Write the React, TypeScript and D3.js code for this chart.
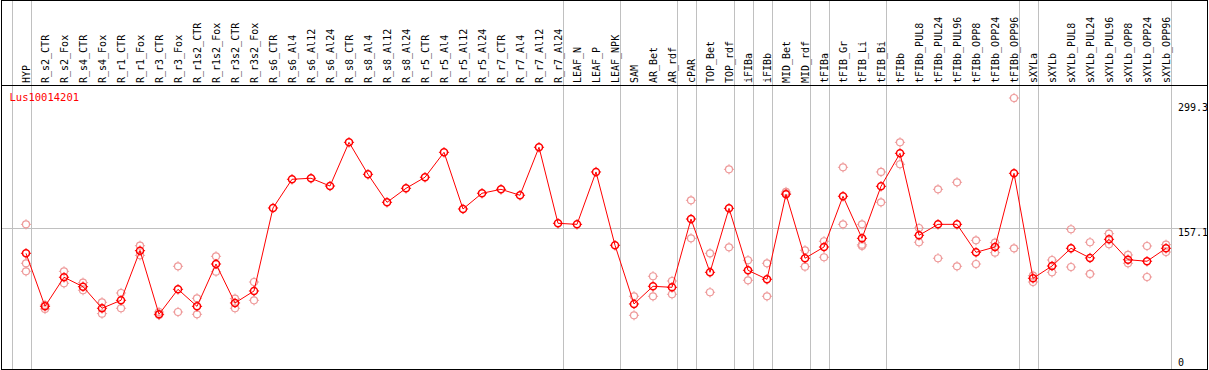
import React from "react";
import * as d3 from "d3";

const geneName = "Lus10014201";

const groups: string[][] = [
  ["HYP"],
  ["R_s2_CTR", "R_s2_Fox", "R_s4_CTR", "R_s4_Fox", "R_r1_CTR", "R_r1_Fox", "R_r3_CTR", "R_r3_Fox",
   "R_r1s2_CTR", "R_r1s2_Fox", "R_r3s2_CTR", "R_r3s2_Fox", "R_s6_CTR", "R_s6_Al4", "R_s6_Al12", "R_s6_Al24",
   "R_s8_CTR", "R_s8_Al4", "R_s8_Al12", "R_s8_Al24", "R_r5_CTR", "R_r5_Al4", "R_r5_Al12", "R_r5_Al24",
   "R_r7_CTR", "R_r7_Al4", "R_r7_Al12", "R_r7_Al24"],
  ["LEAF_N", "LEAF_P", "LEAF_NPK"],
  ["SAM", "AR_Bet", "AR_rdf"],
  ["cPAR"],
  ["TOP_Bet", "TOP_rdf"],
  ["iFIBa"],
  ["iFIBb"],
  ["MID_Bet", "MID_rdf"],
  ["tFIBa"],
  ["tFIB_Gr", "tFIB_Li", "tFIB_Bi"],
  ["tFIBb", "tFIBb_PUL8", "tFIBb_PUL24", "tFIBb_PUL96", "tFIBb_OPP8", "tFIBb_OPP24", "tFIBb_OPP96"],
  ["sXYLa"],
  ["sXYLb", "sXYLb_PUL8", "sXYLb_PUL24", "sXYLb_PUL96", "sXYLb_OPP8", "sXYLb_OPP24", "sXYLb_OPP96"],
];

const categories: string[] = groups.flat();

const means: number[] = [
  129.4, 71.4, 103.2, 92.9, 69.3, 78.0, 132.3, 62.7, 90.0, 71.4,
  117.7, 75.1, 88.2, 179.0, 210.4, 211.5, 203.0, 250.8, 215.8, 185.2,
  200.5, 212.6, 239.9, 177.9, 195.1, 199.4, 192.9, 245.4, 162.2, 161.1,
  218.4, 138.2, 74.0, 93.3, 92.2, 166.9, 108.6, 178.6, 110.8, 101.0,
  194.0, 124.0, 136.3, 191.8, 145.8, 202.7, 238.8, 149.1, 161.1, 161.1,
  130.5, 136.3, 216.9, 102.1, 115.5, 134.9, 124.3, 144.7, 122.4, 120.7,
  134.9,
];

const replicates: number[][] = [
  [161.1, 118.5, 109.7], [72.9, 68.5], [109.7, 96.6], [97.3, 89.0], [75.8, 63.4],
  [86.0, 69.3], [137.7, 127.2], [65.2, 61.9], [115.2, 65.2], [80.2, 62.7],
  [126.1, 109.3], [79.8, 69.3], [98.0, 78.0], [], [],
  [], [], [], [], [],
  [], [], [], [], [],
  [], [], [], [], [],
  [], [], [82.4, 61.6], [104.3, 82.4], [99.1, 84.6],
  [187.4, 145.8], [129.4, 86.8], [221.3, 136.0], [121.8, 99.9], [118.5, 82.4],
  [196.5, 195.0], [132.7, 114.8], [142.6, 125.1], [223.5, 161.1], [161.1, 138.8, 137.4],
  [218.4, 185.2], [250.8, 226.8], [157.1, 141.5], [199.4, 124.0], [207.1, 115.2],
  [143.6, 117.7], [141.0, 130.1], [299.3, 134.9], [104.9, 98.0], [122.1, 108.6],
  [155.7, 114.4], [141.5, 106.8], [150.9, 139.3], [127.6, 118.5], [137.4, 103.5],
  [138.8, 130.8],
];

const yTicks: number[] = [0, 157.1, 299.3];
const gridValues: number[] = [157.1];

const W = 1209;
const H = 370;
const RED = "#ff0000";
const PINK = "#ee9a9a";
const GRID = "#c0c0c0";
const FONT = "'DejaVu Sans Mono', monospace";

function Marker({ cx, cy, color, sw }: { cx: number; cy: number; color: string; sw: number }) {
  const r = 3.5;
  const t = 1.6;
  return (
    <g stroke={color} strokeWidth={sw} fill="none">
      <circle cx={cx} cy={cy} r={r} />
      <line x1={cx} y1={cy - r - t} x2={cx} y2={cy - r} strokeWidth={1} />
      <line x1={cx} y1={cy + r} x2={cx} y2={cy + r + t} strokeWidth={1} />
      <line x1={cx - r - t} y1={cy} x2={cx - r} y2={cy} strokeWidth={1} />
      <line x1={cx + r} y1={cy} x2={cx + r + t} y2={cy} strokeWidth={1} />
    </g>
  );
}

export default function App() {
  const x = d3.scalePoint<string>().domain(categories).range([26, 1166]);
  const y = d3.scaleLinear().domain([0, 299.3]).range([371.6, 98]);
  const step = x.step();

  // separators: before first column, and after the last column of each group
  const sepXs: number[] = [x(categories[0])! - step + 4.5];
  groups.forEach((g) => {
    sepXs.push(x(g[g.length - 1])! + 4.5);
  });

  const line = d3
    .line<number>()
    .x((_, i) => x(categories[i])!)
    .y((d) => y(d));

  const headerBottom = 85.5;

  return (
    <svg
      width={W}
      height={H}
      style={{ position: "absolute", left: 0, top: 0, background: "#fff" }}
    >
      <rect x={0} y={0} width={W} height={H} fill="#fff" />
      {gridValues.map((v) => (
        <line key={v} x1={1} x2={1207} y1={Math.round(y(v)) + 0.5} y2={Math.round(y(v)) + 0.5} stroke={GRID} strokeWidth={1} />
      ))}
      {sepXs.map((sx, i) => (
        <line key={i} x1={Math.round(sx) + 0.5} x2={Math.round(sx) + 0.5} y1={0} y2={369} stroke={GRID} strokeWidth={1} />
      ))}
      {/* frame */}
      <rect x={1.5} y={0.5} width={1206} height={369} fill="none" stroke="#000" strokeWidth={1} />
      <line x1={1} x2={1207} y1={headerBottom} y2={headerBottom} stroke="#000" strokeWidth={1} />
      {/* header labels */}
      {categories.map((c) => (
        <text
          key={c}
          transform={`translate(${x(c)! + 4},83) rotate(-90)`}
          fontFamily={FONT}
          fontSize={10}
          fill="#000"
        >
          {c}
        </text>
      ))}
      <text x={9.5} y={100.5} fontFamily={FONT} fontSize={10.5} fill={RED}>
        {geneName}
      </text>
      {/* y labels */}
      {yTicks.map((v) => (
        <text
          key={v}
          x={1178}
          y={Math.min(366, Math.max(111, y(v) + 8))}
          fontFamily={FONT}
          fontSize={10}
          fill="#000"
        >
          {v === 0 ? "0" : v.toFixed(1)}
        </text>
      ))}
      {/* replicates */}
      {replicates.map((reps, i) =>
        reps.map((v, j) => (
          <Marker key={`${i}-${j}`} cx={x(categories[i])!} cy={y(v)} color={PINK} sw={1.2} />
        ))
      )}
      <path d={line(means) || ""} fill="none" stroke={RED} strokeWidth={1} />
      {means.map((v, i) => (
        <Marker key={i} cx={x(categories[i])!} cy={y(v)} color={RED} sw={1.5} />
      ))}
    </svg>
  );
}
